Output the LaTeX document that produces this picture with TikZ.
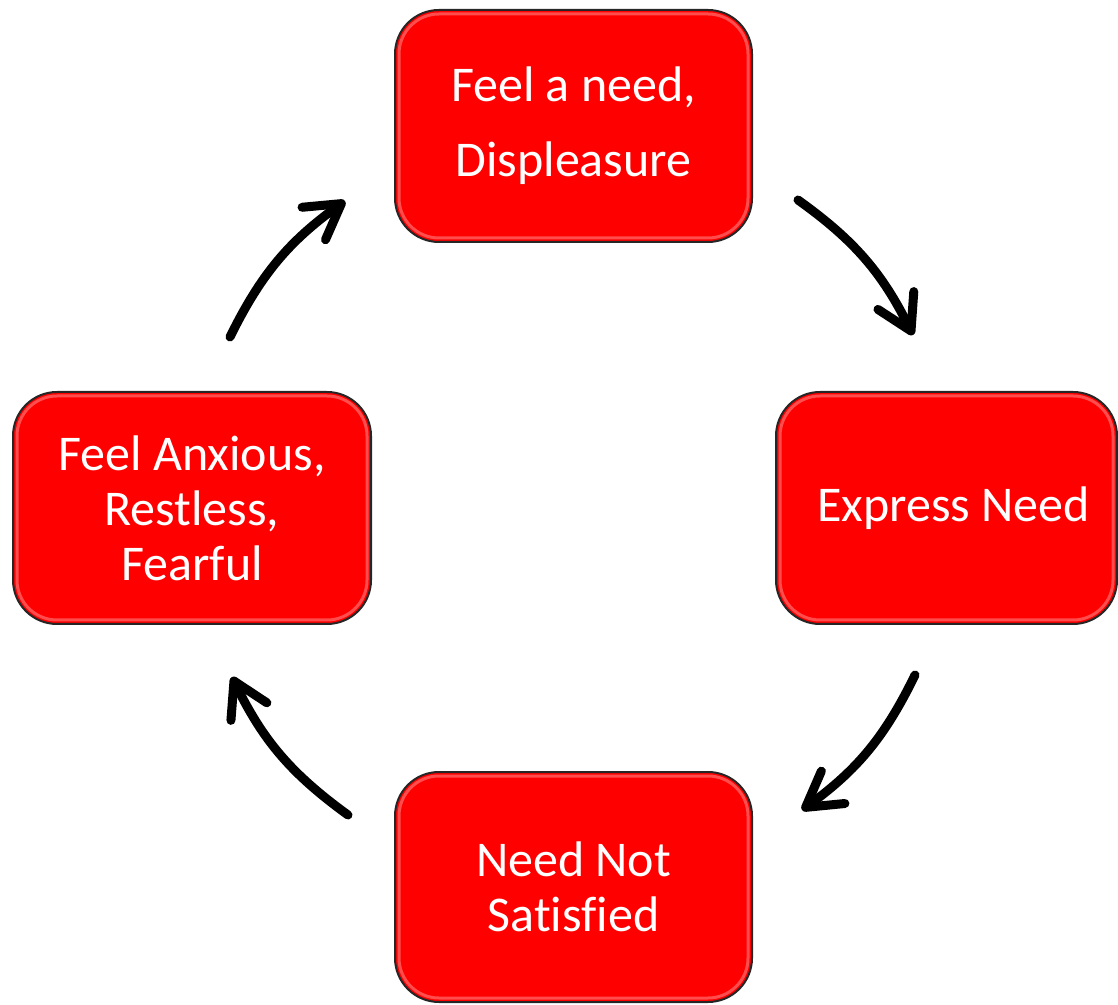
\documentclass[tikz,border=0pt]{standalone}
\usepackage{fontspec}
\setmainfont[Ligatures=NoCommon]{Carlito}
\usetikzlibrary{arrows.meta,calc}
\begin{document}
\begin{tikzpicture}[x=1pt,y=1pt,
  box/.style={draw=black!85, line width=2pt, fill=red, rounded corners=44pt,
    text=white, align=center, inner sep=0pt,
    font=\fontsize{50pt}{55pt}\selectfont},
  bevel/.style={draw=white, line width=3pt, opacity=0.3, rounded corners=40pt},
  arr/.style={line width=9pt, line cap=round,
    -{Straight Barb[length=34pt, width=40pt, round]}}]
\useasboundingbox (0,0) rectangle (1118,1004);
\node[box, minimum width=357pt, minimum height=232pt] (top) at (573.5,878) {Feel a need,\\[20pt]Displeasure};
\node[box, minimum width=341pt, minimum height=232pt] (right) at (946.5,496) {\hspace*{14pt}Express Need};
\node[box, minimum width=357pt, minimum height=230pt] (bottom) at (573.5,117) {Need Not\\Satisfied};
\node[box, minimum width=358pt, minimum height=232pt] (left) at (192,496) {Feel Anxious,\\Restless,\\Fearful};
\foreach \n in {top,right,bottom,left}{
  \draw[bevel] ($(\n.south west)+(5,5)$) rectangle ($(\n.north east)-(5,5)$);
}
\coordinate (a1s) at (230,667);
\coordinate (a1e) at (345,803);
\coordinate (a2s) at (798,804);
\coordinate (a2e) at (913,669);
\coordinate (a3s) at (915,329);
\coordinate (a3e) at (802,194);
\coordinate (a4s) at (348,189);
\coordinate (a4e) at (232,327);
\draw[arr] (a1s) to[bend left=14] (a1e);
\draw[arr] (a2s) to[bend left=14] (a2e);
\draw[arr] (a3s) to[bend left=14] (a3e);
\draw[arr] (a4s) to[bend left=14] (a4e);
\end{tikzpicture}
\end{document}
